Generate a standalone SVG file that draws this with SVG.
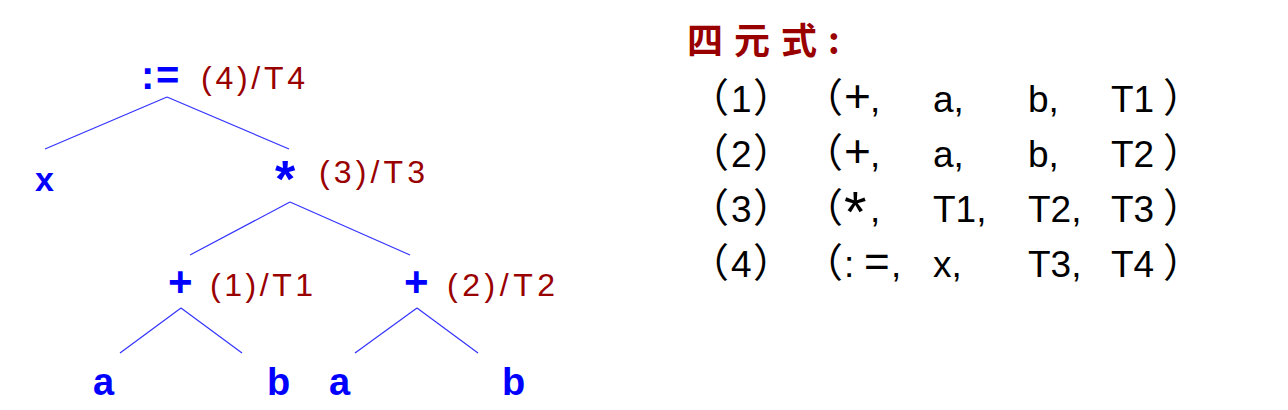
<svg xmlns="http://www.w3.org/2000/svg" width="1288" height="410" viewBox="0 0 1288 410">
<style>
.op{font-family:"Liberation Sans",Arial,sans-serif;font-weight:bold;fill:#0000ff}
.leaf{font-family:"Liberation Sans",Arial,sans-serif;font-weight:bold;fill:#0000ff;font-size:38px}
.lab{font-family:"Liberation Sans",Arial,sans-serif;fill:#990000;font-size:32px}
.edge{stroke:#3333ff;stroke-width:1.2;fill:none}
.row{font-family:"Liberation Sans","Noto Sans CJK SC",sans-serif;fill:#000;font-size:37px}
.p{font-family:"Noto Sans CJK SC",sans-serif;font-size:40px}
.title{font-family:"Noto Sans CJK SC",sans-serif;font-weight:bold;fill:#990000;font-size:36px}
</style>
<rect width="1288" height="410" fill="#ffffff"/>
<g id="connectors">
<line class="edge" x1="167" y1="97" x2="45" y2="149"/>
<line class="edge" x1="167" y1="97" x2="289" y2="149"/>
<line class="edge" x1="290" y1="202" x2="190" y2="255"/>
<line class="edge" x1="290" y1="202" x2="410" y2="255"/>
<line class="edge" x1="181" y1="308" x2="120" y2="353"/>
<line class="edge" x1="181" y1="308" x2="242" y2="353"/>
<line class="edge" x1="417" y1="308" x2="355" y2="353"/>
<line class="edge" x1="417" y1="308" x2="478" y2="353"/>
</g>
<g id="node-assign">
<text class="op" y="89" font-size="40"><tspan x="141">:</tspan><tspan x="156">=</tspan></text>
<text class="lab" x="201" y="89" textLength="104" lengthAdjust="spacing">(4)/T4</text>
</g>
<g id="node-x"><text class="op" x="35" y="191" font-size="34">x</text></g>
<g id="node-mul">
<text class="op" x="275" y="197" font-size="52">*</text>
<text class="lab" x="319" y="183" textLength="106" lengthAdjust="spacing">(3)/T3</text>
</g>
<g id="node-plus1">
<text class="op" x="168" y="296" font-size="42">+</text>
<text class="lab" x="210" y="296" textLength="103" lengthAdjust="spacing">(1)/T1</text>
</g>
<g id="node-plus2">
<text class="op" x="404" y="296" font-size="42">+</text>
<text class="lab" x="447" y="296" textLength="108" lengthAdjust="spacing">(2)/T2</text>
</g>
<g id="leaf-a1"><text class="leaf" x="93" y="395">a</text></g>
<g id="leaf-b1"><text class="leaf" x="267" y="395">b</text></g>
<g id="leaf-a2"><text class="leaf" x="329" y="395">a</text></g>
<g id="leaf-b2"><text class="leaf" x="502" y="395">b</text></g>
<g id="quadruples">
<text class="title" x="687" y="54" letter-spacing="11">四元式:</text>
<text class="row" y="112"><tspan class="p" x="689">（</tspan><tspan x="731">1</tspan><tspan class="p" x="753">）</tspan><tspan class="p" x="803">（</tspan><tspan x="844" font-size="46">+</tspan><tspan x="870">,</tspan><tspan x="933">a,</tspan><tspan x="1028">b,</tspan><tspan x="1111">T1</tspan><tspan class="p" x="1163">）</tspan></text>
<text class="row" y="167"><tspan class="p" x="689">（</tspan><tspan x="731">2</tspan><tspan class="p" x="753">）</tspan><tspan class="p" x="803">（</tspan><tspan x="844" font-size="46">+</tspan><tspan x="870">,</tspan><tspan x="933">a,</tspan><tspan x="1028">b,</tspan><tspan x="1111">T2</tspan><tspan class="p" x="1163">）</tspan></text>
<text class="row" y="222"><tspan class="p" x="689">（</tspan><tspan x="731">3</tspan><tspan class="p" x="753">）</tspan><tspan class="p" x="803">（</tspan><tspan x="844" dy="10" font-size="58">*</tspan><tspan x="870" dy="-10">,</tspan><tspan x="933">T1,</tspan><tspan x="1028">T2,</tspan><tspan x="1111">T3</tspan><tspan class="p" x="1163">）</tspan></text>
<text class="row" y="277"><tspan class="p" x="689">（</tspan><tspan x="731">4</tspan><tspan class="p" x="753">）</tspan><tspan class="p" x="803">（</tspan><tspan x="844">:</tspan><tspan x="864" font-size="44">=</tspan><tspan x="891">,</tspan><tspan x="933">x,</tspan><tspan x="1028">T3,</tspan><tspan x="1111">T4</tspan><tspan class="p" x="1163">）</tspan></text>
</g>
</svg>
